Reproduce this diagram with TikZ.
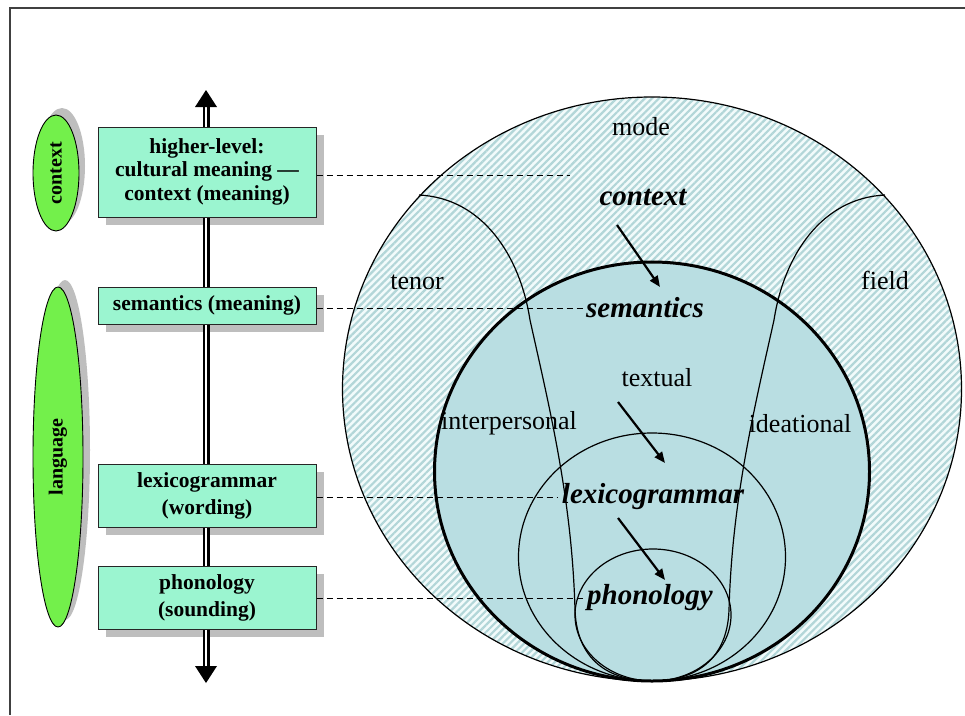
\documentclass[tikz,border=0pt]{standalone}
\usepackage{fontspec}
\setmainfont{Liberation Serif}
\usetikzlibrary{patterns.meta,shapes.geometric,arrows.meta}
\definecolor{mint}{RGB}{155,245,208}
\definecolor{leaf}{RGB}{115,240,75}
\definecolor{shadowc}{RGB}{190,190,190}
\definecolor{hatchc}{RGB}{178,214,216}
\definecolor{ringbg}{RGB}{242,251,251}
\definecolor{innerc}{RGB}{185,222,226}
\begin{document}
\begin{tikzpicture}[x=1pt,y=-1pt,
  lbl/.style={font=\fontsize{26}{30}\selectfont, inner sep=0pt},
  keyw/.style={font=\fontsize{29}{33}\selectfont\bfseries\itshape, inner sep=0pt},
  thinline/.style={line width=1.2pt},
  arr/.style={line width=2.2pt, -{Triangle[length=11pt,width=9pt]}},
  ell/.style={ellipse, draw=black, line width=0.9pt, fill=leaf, rotate=90, inner sep=0pt,
              font=\fontsize{20}{24}\selectfont\bfseries},
  box/.style={draw=black!85, line width=1pt, fill=mint, minimum width=218pt, inner sep=0pt,
              align=center, font=\fontsize{21.5}{24.5}\selectfont\bfseries},
  boxb/.style={box, font=\fontsize{21.5}{27}\selectfont\bfseries},
  dsh/.style={dash pattern=on 6pt off 4pt, line width=0.9pt}]
\useasboundingbox (0,0) rectangle (965,715);
\fill[white] (0,0) rectangle (965,715);
% frame
\draw[line width=1.5pt, black!75] (965,8) -- (10,8) -- (10,715);

% outer ring
\fill[ringbg] (652,389) ellipse [x radius=309.5, y radius=292];
\fill[pattern={Lines[angle=45,distance=5pt,line width=2.2pt]}, pattern color=hatchc]
  (652,389) ellipse [x radius=309.5, y radius=292];
\draw[thinline] (652,389) ellipse [x radius=309.5, y radius=292];
% semantics circle
\fill[innerc] (652,471.5) ellipse [x radius=217.5, y radius=209.5];
\draw[line width=3pt] (652,471.5) ellipse [x radius=217.5, y radius=209.5];
% lexicogrammar & phonology circles
\draw[thinline] (652,557) ellipse [x radius=133.5, y radius=124];
\draw[thinline] (653,615) ellipse [x radius=78, y radius=66];
% metafunction curves
\draw[thinline] (419,195) .. controls (482,198) and (520,255) .. (530,320)
  .. controls (550,410) and (572,500) .. (575,610)
  .. controls (577,665) and (615,681) .. (652,681);
\draw[thinline] (885,195) .. controls (822,198) and (784,255) .. (774,320)
  .. controls (754,410) and (732,500) .. (729,610)
  .. controls (727,665) and (689,681) .. (652,681);

% labels in circles
\node[lbl] (mode) at (641,127) {mode};
\node[keyw] (kctx) at (643,197) {context};
\node[keyw] (ksem) at (645,308) {semantics};
\node[lbl] (tenor) at (417,282) {tenor};
\node[lbl] (field) at (885,280) {field};
\node[lbl] (textual) at (657,378) {textual};
\node[lbl] (interp) at (509,423) {interpersonal};
\node[lbl] (idea) at (800,424) {ideational};
\node[keyw] (klex) at (653,497) {lexicogrammar};
\node[keyw] (kpho) at (650,598) {phonology};

% arrows
\coordinate (a1s) at (617,225); \coordinate (a1e) at (660,287);
\coordinate (a2s) at (618,402); \coordinate (a2e) at (665,463);
\coordinate (a3s) at (618,518); \coordinate (a3e) at (665,580);
\draw[arr] (a1s) -- (a1e);
\draw[arr] (a2s) -- (a2e);
\draw[arr] (a3s) -- (a3e);

% left ellipses
\fill[shadowc] (62,166) ellipse [x radius=23, y radius=58];
\node[ell, minimum width=116pt, minimum height=46pt] (ectx) at (56,173) {context};
\fill[shadowc] (65,450) ellipse [x radius=25, y radius=170];
\node[ell, minimum width=340pt, minimum height=50pt] (elang) at (58,457) {language};

% box shadows
\fill[shadowc] (106,135) rectangle (324,225);
\fill[shadowc] (106,295) rectangle (324,332);
\fill[shadowc] (106,472) rectangle (324,535);
\fill[shadowc] (106,574) rectangle (324,637);

% vertical axis
\coordinate (axtop) at (206,90);
\coordinate (axbot) at (206,683);
\draw[line width=2.6pt, double=white, double distance=1.8pt] ([yshift=-15pt]axtop) -- ([yshift=15pt]axbot);
\fill (axtop) -- ++(-11,17) -- ++(22,0) -- cycle;
\fill (axbot) -- ++(-11,-17) -- ++(22,0) -- cycle;

% boxes
\node[box, minimum height=90pt] (b1) at (207,172) {\raisebox{-2pt}{higher-level:}\\cultural meaning —\\context (meaning)};
\node[box, minimum height=37pt] (b2) at (207,305.5) {semantics (meaning)};
\node[boxb, minimum height=63pt] (b3) at (207,495.5) {lexicogrammar\\(wording)};
\node[boxb, minimum height=63pt] (b4) at (207,597.5) {phonology\\(sounding)};

% dashed links
\coordinate (d1) at (570,175);
\draw[dsh] (b1.east |- d1) -- (d1);
\draw[dsh] (b2.east |- ksem.west) -- ([xshift=-3pt]ksem.west);
\draw[dsh] (b3.east |- klex.west) -- ([xshift=-4pt]klex.west);
\draw[dsh] (b4.east |- kpho.west) -- ([xshift=-4pt]kpho.west);
\end{tikzpicture}
\end{document}
